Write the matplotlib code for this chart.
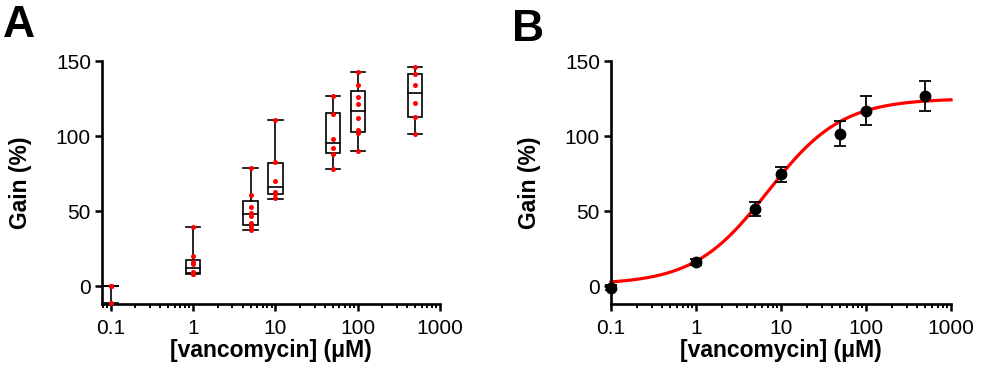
import numpy as np
import matplotlib
matplotlib.use("Agg")
import matplotlib.pyplot as plt
from matplotlib.patches import Rectangle
from matplotlib.ticker import LogLocator, FixedLocator, FixedFormatter, NullFormatter

plt.rcParams['font.family'] = ['Liberation Sans', 'DejaVu Sans']

# ---------------- data ----------------
conc = [0.1, 1, 5, 10, 50, 100, 500]

# Panel A: individual replicates (red dots)
dots_01 = [0, 0, 0, 0, 0, -11]
dots_1 = [39.5, 20.2, 15.7, 15.0, 9.5, 8.2, 7.8]
dots_5 = [79, 60.8, 52.6, 48.7, 46.7, 42, 39.4, 37.6]
dots_10 = [110.7, 83, 70, 63, 61.5, 58.5]
dots_50 = [127, 115, 98, 91.8, 88, 78]
dots_100 = [142.5, 134.2, 126, 121.2, 111.7, 104.2, 101.7, 89.8]
dots_500 = [146, 141.5, 134.2, 122.3, 113, 101.3]
dots_all = [dots_01, dots_1, dots_5, dots_10, dots_50, dots_100, dots_500]

# Panel A: box statistics (min, Q1, median, Q3, max)
box_min = [-11, 7.8, 37.6, 58.2, 78, 89.8, 101.3]
box_q1 = [0, 8.9, 40.6, 61.5, 88.5, 103, 112.6]
box_med = [0, 11.8, 47.8, 66, 95.1, 116.6, 128.5]
box_q3 = [0, 17.3, 56.6, 82, 115.2, 130, 141.1]
box_max = [0, 39.5, 79, 110.7, 127, 142.5, 146.2]

# Panel B: mean +/- SEM
mean_b = [-1, 16, 51.5, 74.5, 101.5, 117, 127]
err_b = [1.5, 2.3, 4.6, 5.0, 8.3, 9.4, 10.0]

# Panel B: fitted dose-response (Hill) parameters
fit_bottom = 1.0
fit_top = 125.0
fit_ec50 = 7.0
fit_hill = 1.0

xticks = [0.1, 1, 10, 100, 1000]
xticklabels = ['0.1', '1', '10', '100', '1000']
yticks = [0, 50, 100, 150]
xlabel = '[vancomycin] (\u03bcM)'
ylabel = 'Gain (%)'

# ---------------- figure ----------------
W, H = 981, 370
fig = plt.figure(figsize=(W / 100, H / 100), dpi=100)

axA = fig.add_axes([102 / W, (H - 304) / H, (440 - 102) / W, (304 - 61) / H])
axB = fig.add_axes([611 / W, (H - 304) / H, (951 - 611) / W, (304 - 61) / H])


def style(ax, xlim):
    ax.set_xscale('log')
    ax.set_xlim(*xlim)
    ax.set_ylim(-12, 150)
    for s in ['top', 'right']:
        ax.spines[s].set_visible(False)
    for s in ['left', 'bottom']:
        ax.spines[s].set_linewidth(1.9)
    ax.xaxis.set_major_locator(FixedLocator(xticks))
    ax.xaxis.set_major_formatter(FixedFormatter(xticklabels))
    ax.xaxis.set_minor_locator(LogLocator(base=10, subs=np.arange(2, 10), numticks=20))
    ax.xaxis.set_minor_formatter(NullFormatter())
    ax.set_yticks(yticks)
    ax.tick_params(axis='both', which='major', length=5, width=1.8, labelsize=15, direction='out', pad=3)
    ax.tick_params(axis='x', which='major', pad=5.5)
    ax.tick_params(axis='x', which='minor', length=3, width=1.4, direction='out')
    ax.set_xlabel(xlabel, fontsize=16.5, fontweight='bold', labelpad=1)
    ax.set_ylabel(ylabel, fontsize=16.5, fontweight='bold', labelpad=17)


style(axA, (0.0784, 1000))
style(axB, (0.1, 1000))

# ---- Panel A: box plots + dots ----
hw = 0.087  # half width in decades
lw = 1.2
for i, c in enumerate(conc):
    x0 = c * 10 ** (-hw)
    x1 = c * 10 ** (hw)
    axA.add_patch(Rectangle((x0, box_q1[i]), x1 - x0, box_q3[i] - box_q1[i],
                            fill=False, edgecolor='black', linewidth=lw, zorder=3))
    axA.plot([x0, x1], [box_med[i], box_med[i]], color='black', lw=lw, zorder=3)
    axA.plot([c, c], [box_q3[i], box_max[i]], color='black', lw=lw, zorder=3)
    axA.plot([c, c], [box_min[i], box_q1[i]], color='black', lw=lw, zorder=3)
    axA.plot([x0, x1], [box_max[i], box_max[i]], color='black', lw=lw, zorder=3)
    axA.plot([x0, x1], [box_min[i], box_min[i]], color='black', lw=lw, zorder=3)
    axA.plot([c] * len(dots_all[i]), dots_all[i], 'o', color='#ff0000',
             markersize=3.6, markeredgewidth=0, zorder=4, clip_on=False)

# ---- Panel B: mean +/- error + fit ----
xf = np.logspace(-1, 3, 400)
yf = fit_bottom + (fit_top - fit_bottom) / (1 + (fit_ec50 / xf) ** fit_hill)
axB.plot(xf, yf, color='#ff0000', lw=2.3, zorder=2, clip_on=False)
axB.errorbar(conc, mean_b, yerr=err_b, fmt='o', color='black', markersize=7.5,
             capsize=4.5, elinewidth=1.3, capthick=1.3, zorder=3, clip_on=False)

# panel letters
fig.text(3 / W, 1 - 37 / H, 'A', fontsize=32, fontweight='bold', ha='left', va='baseline')
fig.text(512 / W, 1 - 41 / H, 'B', fontsize=32, fontweight='bold', ha='left', va='baseline')

fig.savefig('out.png', dpi=100)
